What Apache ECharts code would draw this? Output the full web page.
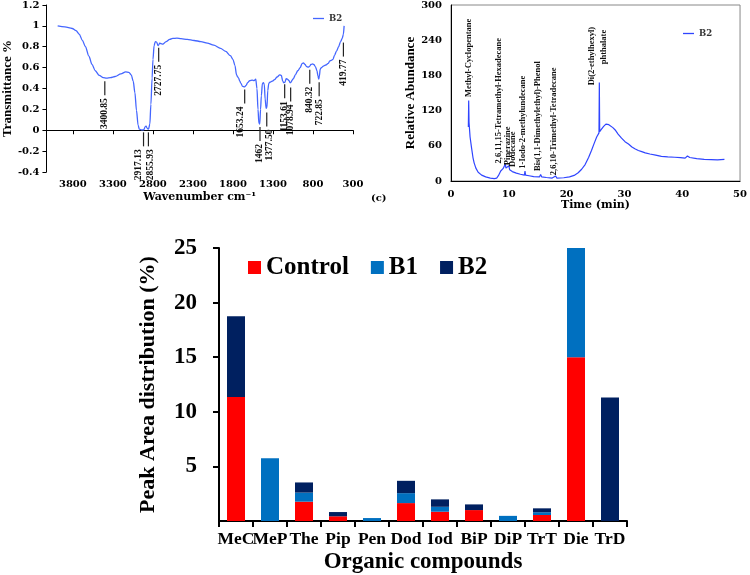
<!DOCTYPE html>
<html>
<head>
<meta charset="utf-8">
<script src="https://cdn.jsdelivr.net/npm/echarts@6/dist/echarts.min.js"></script>
<style>
  html, body { margin: 0; padding: 0; background: #fff; }
  #chart { width: 750px; height: 575px; }
</style>
</head>
<body>
<div id="chart"></div>
<script>
// FTIR spectrum of B2 (wavenumber cm-1, transmittance)
var irWavenumber = [3990, 3900, 3808, 3760, 3720, 3680, 3643, 3600, 3560, 3520, 3470, 3420, 3380, 3330, 3273, 3200, 3140, 3100, 3070, 3046, 3025, 3005, 2985, 2970, 2943, 2915, 2895, 2885, 2873, 2855, 2838, 2825, 2810, 2799, 2785, 2770, 2754, 2735, 2729, 2715, 2700, 2676, 2635, 2590, 2552, 2500, 2449, 2370, 2285, 2200, 2120, 2040, 1955, 1890, 1832, 1800, 1775, 1755, 1740, 1729, 1715, 1700, 1680, 1655, 1635, 1617, 1590, 1560, 1535, 1515, 1500, 1487, 1476, 1465, 1455, 1445, 1432, 1420, 1408, 1398, 1385, 1375, 1365, 1352, 1338, 1310, 1280, 1250, 1215, 1195, 1178, 1165, 1150, 1135, 1120, 1100, 1085, 1075, 1060, 1045, 1020, 990, 960, 935, 920, 900, 880, 860, 845, 825, 805, 790, 770, 750, 738, 728, 720, 710, 695, 670, 640, 610, 590, 570, 550, 530, 505, 480, 455, 435, 420, 411];
var irTransmittance = [1.0, 0.99, 0.975, 0.955, 0.92, 0.86, 0.80, 0.71, 0.63, 0.57, 0.525, 0.505, 0.50, 0.505, 0.515, 0.54, 0.56, 0.555, 0.53, 0.47, 0.36, 0.19, 0.05, 0.01, 0.004, 0.005, 0.035, 0.04, 0.02, 0.01, 0.06, 0.25, 0.5, 0.68, 0.81, 0.85, 0.845, 0.81, 0.815, 0.835, 0.83, 0.825, 0.85, 0.87, 0.88, 0.882, 0.878, 0.87, 0.86, 0.85, 0.835, 0.815, 0.785, 0.755, 0.715, 0.68, 0.62, 0.53, 0.51, 0.50, 0.47, 0.45, 0.42, 0.415, 0.43, 0.455, 0.475, 0.48, 0.475, 0.49, 0.40, 0.2, 0.07, 0.06, 0.2, 0.33, 0.45, 0.455, 0.44, 0.3, 0.21, 0.22, 0.38, 0.45, 0.46, 0.47, 0.485, 0.51, 0.53, 0.525, 0.47, 0.455, 0.46, 0.495, 0.49, 0.475, 0.455, 0.46, 0.48, 0.495, 0.53, 0.57, 0.6, 0.64, 0.645, 0.63, 0.61, 0.605, 0.61, 0.63, 0.635, 0.63, 0.61, 0.57, 0.52, 0.49, 0.52, 0.585, 0.6, 0.615, 0.625, 0.64, 0.665, 0.67, 0.68, 0.72, 0.76, 0.80, 0.85, 0.88, 0.92, 1.0];
// peak labels: text, transmittance where the leader starts, wavenumber where the text sits
var irPeakLabels = ['3400.85', '2917.13', '2855.93', '2727.75', '1653.24', '1462', '1377.50', '1153.61', '1078.94', '840.32', '722.85', '419.77'];
var irPeakTop = [0.47, -0.02, -0.02, 0.79, 0.39, 0.03, 0.17, 0.44, 0.41, 0.58, 0.46, 0.84];
var irPeakTextAt = [3400.85, 2980, 2830, 2727.75, 1700, 1462, 1345, 1153.61, 1078.94, 840.32, 722.85, 419.77];

// GC-MS chromatogram of B2 (time min, relative abundance)
var gcTime = [3.00, 3.06, 3.12, 3.3, 3.55, 3.8, 4.0, 4.3, 4.7, 5.3, 6.0, 6.8, 7.5, 7.9, 8.2, 8.6, 9.0, 9.3, 9.4, 9.5, 9.8, 10.0, 10.15, 10.6, 11.3, 12.0, 12.7, 12.8, 12.9, 13.5, 14.3, 15.3, 15.5, 15.7, 16.5, 17.5, 18.1, 18.3, 19.5, 20.5, 21.3, 22.0, 22.6, 23.2, 23.8, 24.3, 24.8, 25.2, 25.6, 25.66, 25.72, 26.0, 26.4, 26.8, 27.0, 27.3, 27.6, 28.0, 28.4, 28.9, 29.5, 30.1, 30.7, 31.3, 31.8, 32.4, 33.0, 33.3, 33.6, 34.4, 35.4, 36.4, 37.5, 38.7, 39.7, 40.5, 40.9, 41.3, 42.5, 43.8, 45.0, 46.1, 47.3];
var gcAbundance = [92, 137, 100, 75, 57, 40, 31, 22, 15, 10, 7, 5, 4, 5, 9, 17, 21, 22, 29, 22, 21, 26, 19, 16, 13.5, 11.5, 10, 17, 10, 9, 7.5, 7, 11, 7, 6, 5, 8.5, 5, 5.5, 7, 9.5, 14, 20, 28, 40, 52, 65, 75, 82, 168, 84, 88, 93, 97, 100, 96, 98, 91, 87, 80, 73, 67, 63, 58, 55, 52, 50, 53, 48, 46, 44, 42, 41, 40.5, 40, 39, 42.5, 40, 38, 37, 36.5, 36, 37];
// compound labels: text, retention time, abundance at the foot of the text
var gcCompounds = ['Methyl-Cyclopentane', '2,6,11,15-Tetramethyl-Hexadecane', 'Piperazine', 'Dodecane', '1-Iodo-2-methylundecane', 'Bis(1,1-Dimethylethyl)-Phenol', '2,6,10-Trimethyl-Tetradecane', 'Di(2-ethylhexyl)', 'phthalate'];
var gcCompoundTime = [3.1, 8.3, 9.75, 10.7, 12.5, 15.0, 17.8, 24.3, 26.4];
var gcCompoundBase = [143, 30, 27, 24, 21, 17, 10, 163, 199];

// peak area distribution (%)
var compounds = ['MeC', 'MeP', 'The', 'Pip', 'Pen', 'Dod', 'Iod', 'BiP', 'DiP', 'TrT', 'Die', 'TrD'];
var control = [11.35, 0, 1.77, 0.43, 0, 1.64, 0.85, 1.0, 0, 0.55, 15, 0];
var b1 = [0, 5.75, 0.83, 0, 0.27, 0.91, 0.45, 0, 0.47, 0.25, 10, 0];
var b2 = [7.4, 0, 0.93, 0.39, 0, 1.13, 0.68, 0.52, 0, 0.36, 0, 11.3];

var WIDE = '"DejaVu Serif", serif';
var TIMES = '"Liberation Serif", "Times New Roman", serif';

function zip(a, b) {
  return a.map(function (v, i) { return [v, b[i]]; });
}

function plain(v) {
  return String(parseFloat(v.toFixed(2)));
}

function irPeakItem(params, api) {
  var i = params.dataIndex;
  var top = api.coord([api.value(0), api.value(1)]);
  var txt = api.coord([irPeakTextAt[i], api.value(1)]);
  return {
    type: 'group',
    children: [{
      type: 'line',
      shape: { x1: top[0], y1: top[1], x2: top[0], y2: top[1] + 14 },
      style: { stroke: '#222', lineWidth: 1.2 }
    }, {
      type: 'text',
      x: txt[0],
      y: top[1] + 17,
      rotation: Math.PI / 2,
      style: {
        text: irPeakLabels[i], align: 'right', verticalAlign: 'middle',
        font: 'bold 9.5px ' + TIMES, fill: '#111'
      }
    }]
  };
}

function gcPeakItem(params, api) {
  var p = api.coord([api.value(0), api.value(1)]);
  return {
    type: 'text',
    x: p[0],
    y: p[1],
    rotation: Math.PI / 2,
    style: {
      text: gcCompounds[params.dataIndex], align: 'left', verticalAlign: 'middle',
      font: 'bold 8.5px ' + TIMES, fill: '#111'
    }
  };
}

var thinAxis = { show: true, lineStyle: { color: '#000', width: 1 } };
var smallLabel = { color: '#000', fontFamily: WIDE, fontWeight: 'bold', fontSize: 10, formatter: plain };
var lineLegendText = { color: '#333', fontFamily: WIDE, fontWeight: 'bold', fontSize: 8.5 };

var chart = echarts.init(document.getElementById('chart'), null, { renderer: 'canvas' });

chart.setOption({
  animation: false,
  backgroundColor: '#fff',
  grid: [
    { left: 44, top: 4, width: 309, height: 168 },
    { left: 451, top: 4, width: 292, height: 177, show: true, borderColor: '#888', borderWidth: 1, backgroundColor: 'transparent' },
    { left: 219, top: 248, width: 408, height: 273 }
  ],
  legend: [{
    data: ['FTIR B2'],
    left: 308, top: 9,
    icon: 'rect', itemWidth: 11, itemHeight: 1.3,
    formatter: function () { return 'B2'; },
    textStyle: lineLegendText
  }, {
    data: ['GC B2'],
    left: 678, top: 24,
    icon: 'rect', itemWidth: 11, itemHeight: 1.3,
    formatter: function () { return 'B2'; },
    textStyle: lineLegendText
  }, {
    data: ['Control', 'B1', 'B2'],
    left: 243, top: 250,
    icon: 'rect',
    itemWidth: 13, itemHeight: 13, itemGap: 22,
    textStyle: { color: '#000', fontFamily: TIMES, fontWeight: 'bold', fontSize: 25 }
  }],
  xAxis: [{
    type: 'value', gridIndex: 0,
    min: 300, max: 4130, interval: 500, inverse: true,
    axisLine: thinAxis,
    axisTick: { show: true, length: 4, lineStyle: { color: '#000' } },
    axisLabel: Object.assign({ margin: 7, showMaxLabel: false }, smallLabel),
    splitLine: { show: false },
    name: 'Wavenumber cm⁻¹', nameLocation: 'middle', nameGap: 20,
    nameTextStyle: { color: '#000', fontFamily: WIDE, fontWeight: 'bold', fontSize: 11 }
  }, {
    type: 'value', gridIndex: 1,
    min: 0, max: 50, interval: 10,
    axisLine: thinAxis,
    axisTick: { show: false },
    axisLabel: Object.assign({ margin: 8 }, smallLabel),
    splitLine: { show: false },
    name: 'Time (min)', nameLocation: 'middle', nameGap: 18,
    nameTextStyle: { color: '#000', fontFamily: WIDE, fontWeight: 'bold', fontSize: 11 }
  }, {
    type: 'category', gridIndex: 2,
    data: compounds,
    axisLine: { show: true, lineStyle: { color: '#000', width: 2 } },
    axisTick: { show: true, length: 6, alignWithLabel: false, lineStyle: { color: '#000', width: 2 } },
    axisLabel: { interval: 0, margin: 9, color: '#000', fontFamily: TIMES, fontWeight: 'bold', fontSize: 17.5 },
    name: 'Organic compounds', nameLocation: 'middle', nameGap: 30,
    nameTextStyle: { color: '#000', fontFamily: TIMES, fontWeight: 'bold', fontSize: 23 }
  }],
  yAxis: [{
    type: 'value', gridIndex: 0,
    min: -0.4, max: 1.2, interval: 0.2,
    axisLine: thinAxis,
    axisTick: { show: true, length: 4, lineStyle: { color: '#000' } },
    axisLabel: Object.assign({ margin: 7 }, smallLabel),
    splitLine: { show: false },
    name: 'Transmittance %', nameLocation: 'middle', nameGap: 29,
    nameTextStyle: { color: '#000', fontFamily: TIMES, fontWeight: 'bold', fontSize: 13 }
  }, {
    type: 'value', gridIndex: 1,
    min: 0, max: 300, interval: 60,
    axisLine: thinAxis,
    axisTick: { show: false },
    axisLabel: Object.assign({ margin: 9 }, smallLabel),
    splitLine: { show: false },
    name: 'Relative Abundance', nameLocation: 'middle', nameGap: 32,
    nameTextStyle: { color: '#000', fontFamily: TIMES, fontWeight: 'bold', fontSize: 13 }
  }, {
    type: 'value', gridIndex: 2,
    min: 0, max: 25, interval: 5,
    axisLine: { show: true, lineStyle: { color: '#000', width: 2 } },
    axisTick: { show: true, length: 6, lineStyle: { color: '#000', width: 2 } },
    axisLabel: { margin: 22, showMinLabel: false, color: '#000', fontFamily: TIMES, fontWeight: 'bold', fontSize: 23 },
    splitLine: { show: false },
    name: 'Peak Area distribution (%)', nameLocation: 'middle', nameGap: 60,
    nameTextStyle: { color: '#000', fontFamily: TIMES, fontWeight: 'bold', fontSize: 22 }
  }],
  series: [{
    name: 'FTIR B2', type: 'line', xAxisIndex: 0, yAxisIndex: 0,
    data: zip(irWavenumber, irTransmittance),
    symbol: 'none', smooth: 0.3, smoothMonotone: 'x',
    lineStyle: { color: '#4466ff', width: 1.3 },
    itemStyle: { color: '#4466ff' }
  }, {
    type: 'custom', xAxisIndex: 0, yAxisIndex: 0,
    data: zip(irPeakLabels.map(parseFloat), irPeakTop),
    renderItem: irPeakItem, z: 5
  }, {
    name: 'GC B2', type: 'line', xAxisIndex: 1, yAxisIndex: 1,
    data: zip(gcTime, gcAbundance),
    symbol: 'none',
    lineStyle: { color: '#2f45ff', width: 1.2 },
    itemStyle: { color: '#2f45ff' }
  }, {
    type: 'custom', xAxisIndex: 1, yAxisIndex: 1,
    data: zip(gcCompoundTime, gcCompoundBase),
    renderItem: gcPeakItem, z: 5
  }, {
    name: 'Control', type: 'bar', stack: 'area', xAxisIndex: 2, yAxisIndex: 2,
    data: control, barWidth: 18, itemStyle: { color: '#ff0000' }
  }, {
    name: 'B1', type: 'bar', stack: 'area', xAxisIndex: 2, yAxisIndex: 2,
    data: b1, barWidth: 18, itemStyle: { color: '#0070c0' }
  }, {
    name: 'B2', type: 'bar', stack: 'area', xAxisIndex: 2, yAxisIndex: 2,
    data: b2, barWidth: 18, itemStyle: { color: '#002060' }
  }],
  graphic: [{
    type: 'text', left: 371, top: 193,
    style: { text: '(c)', font: 'bold 10px ' + WIDE, fill: '#000' }
  }]
});
</script>
</body>
</html>
